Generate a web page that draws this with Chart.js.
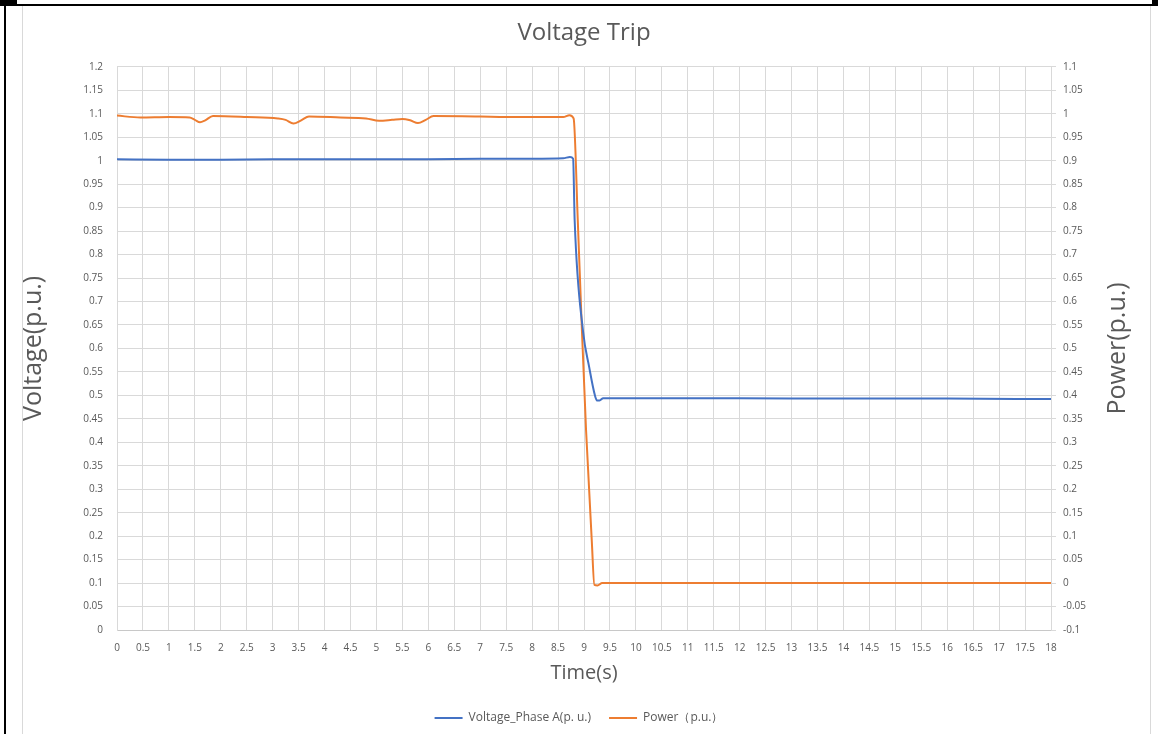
<!DOCTYPE html>
<html>
<head>
<meta charset="utf-8">
<script src="https://cdn.jsdelivr.net/npm/chart.js@4"></script>
<style>
  html, body { margin: 0; padding: 0; background: #fff; }
  #wrap { position: absolute; left: 0; top: 0; width: 1158px; height: 734px; }
  .ln { position: absolute; }
</style>
</head>
<body>
<div id="wrap"><canvas id="chart"></canvas></div>
<!-- page frame -->
<div class="ln" style="left:0;top:4px;width:1158px;height:2px;background:#000"></div>
<div class="ln" style="left:0;top:0;width:17px;height:6px;background:#000"></div>
<div class="ln" style="left:1152px;top:0;width:6px;height:6px;background:#000"></div>
<div class="ln" style="left:4px;top:4px;width:2px;height:730px;background:#000"></div>
<div class="ln" style="left:22px;top:6px;width:1px;height:728px;background:#d9d9d9"></div>
<div class="ln" style="left:1150px;top:6px;width:1px;height:728px;background:#d9d9d9"></div>
<script>
// ----- data -----
const voltTimes  = [0, 1, 2, 3, 4, 5, 6, 7, 8, 8.6, 8.73, 8.79, 8.82, 8.98, 9.1, 9.21, 9.25, 9.3, 9.37, 10, 12, 14, 16, 18];
const voltValues = [1.003, 1.002, 1.002, 1.003, 1.003, 1.003, 1.003, 1.004, 1.004, 1.005, 1.008, 1.004, 0.873, 0.638, 0.56, 0.5, 0.489, 0.489, 0.494, 0.494, 0.494, 0.493, 0.493, 0.492];

const powerTimes  = [0, 0.45, 1.0, 1.4, 1.5, 1.6, 1.7, 1.85, 2.5, 3.1, 3.25, 3.4, 3.55, 3.7, 4.3, 4.8, 5.05, 5.3, 5.5, 5.65, 5.8, 5.95, 6.1, 7, 7.5, 8.0, 8.6, 8.72, 8.8, 8.88, 8.96, 9.04, 9.15, 9.2, 9.26, 9.35, 12, 15, 18];
const powerValues = [0.996, 0.992, 0.993, 0.992, 0.987, 0.982, 0.986, 0.995, 0.993, 0.990, 0.987, 0.979, 0.986, 0.994, 0.992, 0.990, 0.985, 0.987, 0.989, 0.986, 0.980, 0.987, 0.995, 0.994, 0.993, 0.993, 0.993, 0.997, 0.99, 0.773, 0.538, 0.325, 0.09, -0.004, -0.005, 0.0, 0.0, 0.0, 0.0];

const xTicks = [0, 0.5, 1, 1.5, 2, 2.5, 3, 3.5, 4, 4.5, 5, 5.5, 6, 6.5, 7, 7.5, 8, 8.5, 9, 9.5, 10, 10.5, 11, 11.5, 12, 12.5, 13, 13.5, 14, 14.5, 15, 15.5, 16, 16.5, 17, 17.5, 18];
const voltTicks = [0, 0.05, 0.1, 0.15, 0.2, 0.25, 0.3, 0.35, 0.4, 0.45, 0.5, 0.55, 0.6, 0.65, 0.7, 0.75, 0.8, 0.85, 0.9, 0.95, 1, 1.05, 1.1, 1.15, 1.2];
const powerTicks = [-0.1, -0.05, 0, 0.05, 0.1, 0.15, 0.2, 0.25, 0.3, 0.35, 0.4, 0.45, 0.5, 0.55, 0.6, 0.65, 0.7, 0.75, 0.8, 0.85, 0.9, 0.95, 1, 1.05, 1.1];

const FONT = "'Open Sans', 'Noto Sans', sans-serif";
const GREY = '#595959';
const GRID = '#d9d9d9';

const toPoints = (xs, ys) => xs.map((x, i) => ({ x, y: ys[i] }));
const setTicks = (arr) => (scale) => { scale.ticks = arr.map(v => ({ value: v })); };

// axis titles for both y axes, read bottom-to-top like the original
const yTitles = {
  id: 'yTitles',
  afterDraw(chart) {
    const { ctx, chartArea } = chart;
    const cy = (chartArea.top + chartArea.bottom) / 2;
    ctx.save();
    ctx.fillStyle = GREY;
    ctx.font = `25px ${FONT}`;
    ctx.textAlign = 'center';
    ctx.textBaseline = 'middle';
    [['Voltage(p.u.)', 34], ['Power(p.u.)', 1118]].forEach(([txt, x]) => {
      ctx.save();
      ctx.translate(x, cy);
      ctx.rotate(-Math.PI / 2);
      ctx.fillText(txt, 0, 0);
      ctx.restore();
    });
    ctx.restore();
  }
};

new Chart(document.getElementById('chart'), {
  type: 'scatter',
  data: {
    datasets: [
      {
        label: 'Voltage_Phase A(p. u.)',
        data: toPoints(voltTimes, voltValues),
        yAxisID: 'y',
        showLine: true,
        borderColor: '#4472C4',
        backgroundColor: '#4472C4',
        borderWidth: 2,
        pointRadius: 0,
        cubicInterpolationMode: 'monotone'
      },
      {
        label: 'Power（p.u.）',
        data: toPoints(powerTimes, powerValues),
        yAxisID: 'y2',
        showLine: true,
        borderColor: '#ED7D31',
        backgroundColor: '#ED7D31',
        borderWidth: 2,
        pointRadius: 0,
        cubicInterpolationMode: 'monotone'
      }
    ]
  },
  options: {
    responsive: true,
    maintainAspectRatio: false,
    animation: false,
    layout: { padding: 0 },
    plugins: {
      title: {
        display: true,
        text: 'Voltage Trip',
        color: GREY,
        fullSize: false,
        font: { family: FONT, size: 24, weight: 'normal' },
        padding: { top: 19, bottom: 19 }
      },
      legend: {
        position: 'bottom',
        labels: {
          color: GREY,
          font: { family: FONT, size: 12 },
          usePointStyle: true,
          pointStyle: 'line',
          pointStyleWidth: 28,
          padding: 18
        }
      },
      tooltip: { enabled: false }
    },
    scales: {
      x: {
        type: 'linear',
        min: 0, max: 18,
        afterBuildTicks: setTicks(xTicks),
        afterFit: (s) => { s.height = 64; },
        grid: { color: GRID, drawTicks: false },
        border: { color: '#c8c8c8' },
        ticks: {
          autoSkip: false, maxRotation: 0, padding: 12,
          color: GREY, font: { family: FONT, size: 10 },
          callback: (v) => String(v)
        },
        title: {
          display: true, text: 'Time(s)', color: GREY,
          font: { family: FONT, size: 20 }, padding: { top: 4, bottom: 9 }
        }
      },
      y: {
        position: 'left',
        min: 0, max: 1.2,
        afterBuildTicks: setTicks(voltTicks),
        afterFit: (s) => { s.width = 117; },
        grid: { color: GRID, drawTicks: false },
        border: { color: GRID },
        ticks: {
          autoSkip: false, padding: 14,
          color: GREY, font: { family: FONT, size: 10 },
          callback: (v) => String(v)
        }
      },
      y2: {
        position: 'right',
        min: -0.1, max: 1.1,
        afterBuildTicks: setTicks(powerTicks),
        afterFit: (s) => { s.width = 107; },
        grid: { drawOnChartArea: false, color: GRID, tickLength: 5 },
        border: { color: GRID },
        ticks: {
          autoSkip: false, padding: 7,
          color: GREY, font: { family: FONT, size: 10 },
          callback: (v) => String(v)
        }
      }
    }
  },
  plugins: [yTitles]
});
</script>
</body>
</html>
